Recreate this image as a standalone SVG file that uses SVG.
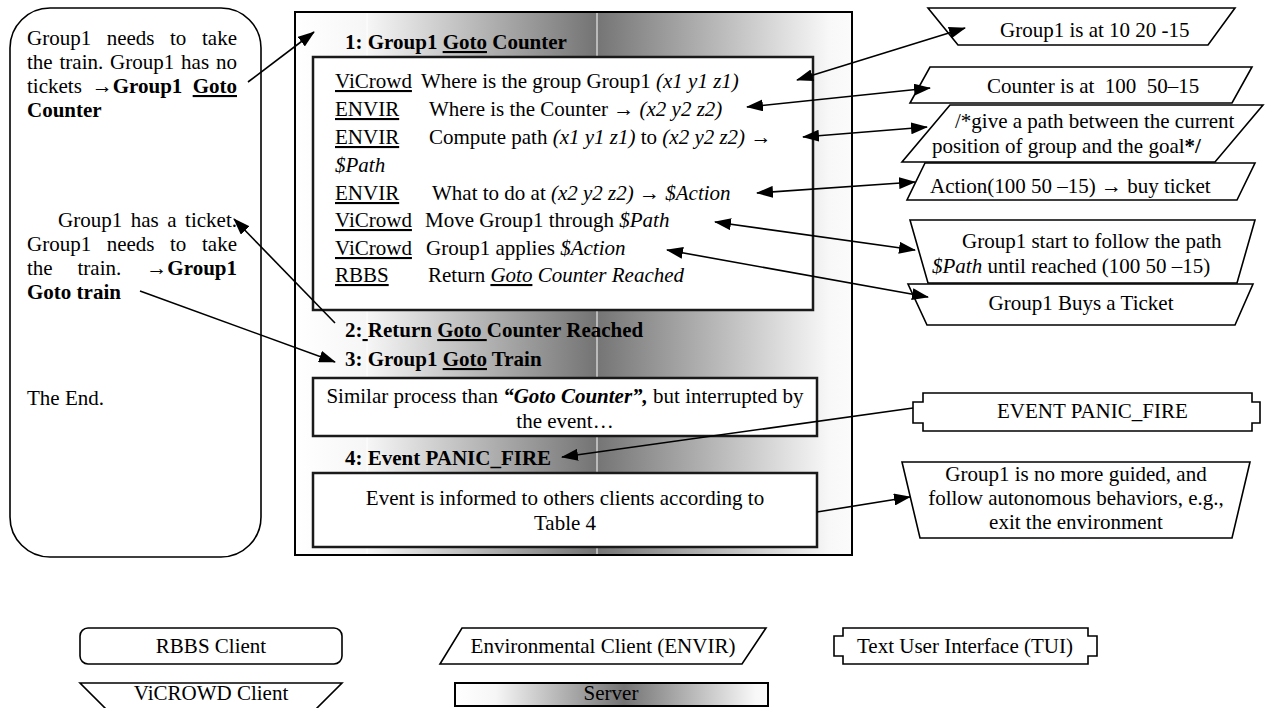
<svg xmlns="http://www.w3.org/2000/svg" width="1266" height="708" viewBox="0 0 1266 708">
<defs>
<linearGradient id="gSrv" gradientUnits="userSpaceOnUse" x1="295" y1="0" x2="852" y2="0">
<stop offset="0" stop-color="#ffffff"/>
<stop offset="0.13" stop-color="#f6f6f6"/>
<stop offset="0.54" stop-color="#747474"/>
<stop offset="0.96" stop-color="#f8f8f8"/>
<stop offset="1" stop-color="#fbfbfb"/>
</linearGradient>
<linearGradient id="gLeg" x1="0" y1="0" x2="1" y2="0">
<stop offset="0" stop-color="#ffffff"/>
<stop offset="0.13" stop-color="#f6f6f6"/>
<stop offset="0.54" stop-color="#747474"/>
<stop offset="0.96" stop-color="#f8f8f8"/>
<stop offset="1" stop-color="#fbfbfb"/>
</linearGradient>
<marker id="ah" viewBox="0 0 17 12" refX="16" refY="6" markerWidth="17" markerHeight="12" markerUnits="userSpaceOnUse" orient="auto-start-reverse">
<path d="M0,0 L17,6 L0,12 z" fill="#000"/>
</marker>
<style>
text{font-family:"Liberation Serif","Times New Roman",serif;font-size:21px;fill:#000}
.b{font-weight:bold}
.i{font-style:italic}
.u{text-decoration:underline}
.c{text-anchor:middle}
.e{text-anchor:end}
.pre{white-space:pre}
.shape{fill:#fff;stroke:#000;stroke-width:1.6}
.box{fill:#fff;stroke:#1a1a1a;stroke-width:2.5}
.conn path{fill:none;stroke:#000;stroke-width:1.6}
.two{marker-start:url(#ah);marker-end:url(#ah)}
.one{marker-end:url(#ah)}
</style>
</defs>

<!-- Left RBBS client panel -->
<g id="rbbs-panel">
<rect class="shape" x="10" y="8" width="251" height="549" rx="40" ry="40"/>
<text x="27" y="45">Group1</text><text x="106.7" y="45">needs</text><text x="170" y="45">to</text><text class="e" x="237" y="45">take</text>
<text x="27" y="69">the</text><text x="59.5" y="69">train.</text><text x="110.1" y="69">Group1</text><text x="181.1" y="69">has</text><text class="e" x="237" y="69">no</text>
<text x="27" y="93">tickets</text><text x="91.7" y="93">→<tspan class="b">Group1</tspan></text><text class="b u e" x="237" y="93">Goto</text>
<text class="b" x="27" y="117">Counter</text>
<text x="58" y="227">Group1</text><text x="130.7" y="227">has</text><text x="167.2" y="227">a</text><text class="e" x="237" y="227">ticket.</text>
<text x="27" y="251">Group1</text><text x="106.7" y="251">needs</text><text x="170" y="251">to</text><text class="e" x="237" y="251">take</text>
<text x="27" y="275">the</text><text x="77.5" y="275">train.</text><text class="e" x="237" y="275">→<tspan class="b">Group1</tspan></text>
<text class="b" x="27" y="299">Goto train</text>
<text x="27" y="405">The End.</text>
</g>

<!-- Server -->
<g id="server">
<rect x="295" y="12" width="557" height="543" fill="url(#gSrv)" stroke="#000" stroke-width="2"/>
<line x1="367" y1="13" x2="367" y2="554" stroke="#fff" stroke-width="1"/>
<line x1="597" y1="13" x2="597" y2="554" stroke="#fff" stroke-width="1"/>
<text class="b" x="345" y="49">1: Group1 <tspan class="u">Goto</tspan> Counter</text>
<text class="b pre" x="345" y="337">2:<tspan class="u"> </tspan>Return <tspan class="u">Goto </tspan>Counter Reached</text>
<text class="b" x="345" y="366">3: Group1 <tspan class="u">Goto</tspan> Train</text>
<text class="b" x="345" y="465">4: Event PANIC_FIRE</text>
</g>

<g id="step1-box">
<rect class="box" x="313" y="57" width="500" height="253"/>
<text class="u" x="335" y="88">ViCrowd</text><text x="421" y="88">Where is the group Group1 <tspan class="i">(x1 y1 z1)</tspan></text>
<text class="u" x="335" y="116">ENVIR</text><text x="429" y="116">Where is the Counter  → <tspan class="i">(x2 y2 z2)</tspan></text>
<text class="u" x="335" y="144">ENVIR</text><text x="429" y="144">Compute path <tspan class="i">(x1 y1 z1)</tspan> to <tspan class="i">(x2 y2 z2)</tspan> →</text>
<text class="i" x="335" y="172">$Path</text>
<text class="u" x="335" y="200">ENVIR</text><text x="432" y="200">What to do at <tspan class="i">(x2 y2 z2)</tspan> → <tspan class="i">$Action</tspan></text>
<text class="u" x="335" y="227">ViCrowd</text><text x="425" y="227">Move Group1 through <tspan class="i">$Path</tspan></text>
<text class="u" x="335" y="255">ViCrowd</text><text x="426" y="255">Group1 applies <tspan class="i">$Action</tspan></text>
<text class="u" x="335" y="282">RBBS</text><text x="428" y="282">Return <tspan class="i u">Goto</tspan><tspan class="i"> Counter Reached</tspan></text>
</g>

<g id="step3-box">
<rect class="box" x="313" y="378" width="504" height="58"/>
<text class="c" x="565" y="403">Similar process than <tspan class="b i">“Goto Counter”,</tspan> but interrupted by</text>
<text class="c" x="565" y="428">the event…</text>
</g>

<g id="step4-box">
<rect class="box" x="313" y="473" width="504" height="74"/>
<text class="c" x="565" y="505">Event is informed to others clients according to</text>
<text class="c" x="565" y="530">Table 4</text>
</g>

<!-- Right side messages -->
<g id="msg-group-pos">
<polygon class="shape" points="928,8 1235,8 1208,45 958,45"/>
<text x="1000" y="37">Group1 is at 10 20 -15</text>
</g>
<g id="msg-counter-pos">
<polygon class="shape" points="930,67 1252,67 1232,103 910,103"/>
<text class="pre" x="987" y="93">Counter is at  100  50–15</text>
</g>
<g id="msg-path">
<polygon class="shape" points="950,105 1263,105 1215,162 902,162"/>
<text x="955" y="128">/*give a path between the current</text>
<text x="932" y="153">position of group and the goal<tspan class="b">*/</tspan></text>
</g>
<g id="msg-action">
<polygon class="shape" points="925,163 1255,163 1237,200 907,200"/>
<text x="930" y="193">Action(100 50 –15) → buy ticket</text>
</g>
<g id="msg-follow">
<polygon class="shape" points="910,220 1255,220 1237,283 928,283"/>
<text x="962" y="248">Group1 start to follow the path</text>
<text x="932" y="273"><tspan class="i">$Path</tspan> until reached (100 50 –15)</text>
</g>
<g id="msg-buy">
<polygon class="shape" points="908,284 1253,284 1235,325 927,325"/>
<text class="c" x="1081" y="310">Group1 Buys a Ticket</text>
</g>
<g id="msg-event">
<path class="shape" d="M923,393 H1252 V402 H1260 V423 H1252 V431 H923 V423 H913 V402 H923 Z"/>
<text x="997" y="418">EVENT PANIC_FIRE</text>
</g>
<g id="msg-autonomous">
<polygon class="shape" points="902,462 1250,462 1232,538 920,538"/>
<text class="c" x="1076" y="481">Group1 is no more guided, and</text>
<text class="c" x="1076" y="505">follow autonomous behaviors, e.g.,</text>
<text class="c" x="1076" y="529">exit the environment</text>
</g>

<!-- Connectors -->
<g id="connectors" class="conn">
<path class="one" d="M248,82 L314,32"/>
<path class="two" d="M797,80 L965,28"/>
<path class="two" d="M747,107 L930,88"/>
<path class="two" d="M803,137 L927,127"/>
<path class="two" d="M757,193 L915,182"/>
<path class="two" d="M715,222 L915,250"/>
<path class="two" d="M667,250 L928,297"/>
<path class="one" d="M335,323 L234,219"/>
<path class="one" d="M140,291 L335,362"/>
<path class="one" d="M913,408 L562,457"/>
<path class="one" d="M817,512 L910,497"/>
</g>

<!-- Legend -->
<g id="legend-rbbs">
<rect class="shape" x="80" y="628" width="262" height="36" rx="8" ry="8"/>
<text class="c" x="211" y="653">RBBS Client</text>
</g>
<g id="legend-envir">
<polygon class="shape" points="462,628 766,628 742,664 440,664"/>
<text class="c" x="603" y="653">Environmental Client (ENVIR)</text>
</g>
<g id="legend-tui">
<path class="shape" d="M843,628 H1088 V636 H1097 V656 H1088 V664 H843 V656 H834 V636 H843 Z"/>
<text class="c" x="965" y="653">Text User Interface (TUI)</text>
</g>
<g id="legend-vicrowd">
<polygon class="shape" points="80,683 342,683 313,712 109,712"/>
<text class="c" x="211" y="700">ViCROWD Client</text>
</g>
<g id="legend-server">
<rect x="455" y="683" width="313" height="23" fill="url(#gLeg)" stroke="#000" stroke-width="2"/>
<text class="c" x="611" y="700">Server</text>
</g>
</svg>
